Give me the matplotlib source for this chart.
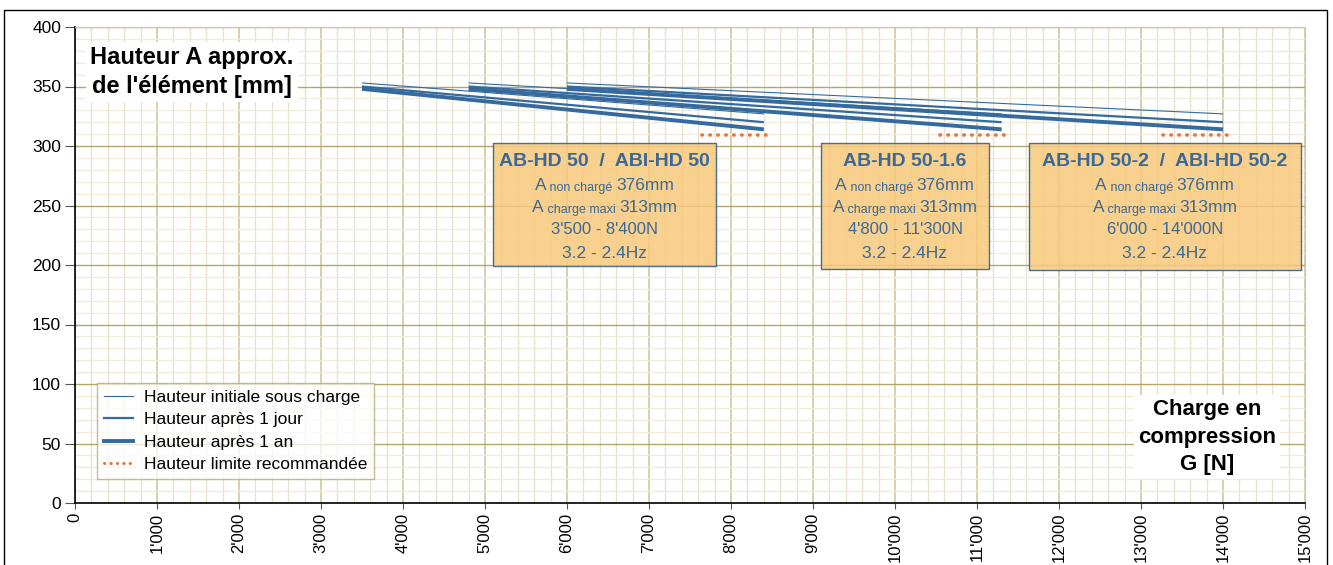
import matplotlib
matplotlib.use("Agg")
import matplotlib.pyplot as plt
from matplotlib.patches import Rectangle
from matplotlib.lines import Line2D
from matplotlib.offsetbox import TextArea, HPacker, AnnotationBbox
from matplotlib.ticker import MultipleLocator

plt.rcParams['font.family'] = ['Liberation Sans', 'DejaVu Sans']

# ---------------- data ----------------
models = ["AB-HD 50  /  ABI-HD 50", "AB-HD 50-1.6", "AB-HD 50-2  /  ABI-HD 50-2"]
load_start = [3500, 4800, 6000]
load_end = [8400, 11300, 14000]
h_initial = [(353, 327), (353, 327), (353, 327)]
h_day = [(350, 320), (350, 320), (350, 320)]
h_year = [(348, 314), (348, 314), (348, 314)]
limit_height = [309, 309, 309]
limit_x = [(7650, 8450), (10550, 11380), (13270, 14090)]
a_unloaded = ["376mm", "376mm", "376mm"]
a_maxload = ["313mm", "313mm", "313mm"]
load_ranges = ["3'500 - 8'400N", "4'800 - 11'300N", "6'000 - 14'000N"]
freq_ranges = ["3.2 - 2.4Hz", "3.2 - 2.4Hz", "3.2 - 2.4Hz"]
x_ticks = list(range(0, 15001, 1000))
x_tick_labels = ["0", "1'000", "2'000", "3'000", "4'000", "5'000", "6'000", "7'000",
                 "8'000", "9'000", "10'000", "11'000", "12'000", "13'000", "14'000", "15'000"]
y_ticks = list(range(0, 401, 50))
y_tick_labels = [str(v) for v in y_ticks]
legend_labels = ["Hauteur initiale sous charge", "Hauteur après 1 jour",
                 "Hauteur après 1 an", "Hauteur limite recommandée"]

# ---------------- style ----------------
W, H = 1333, 565
LINE_C = "#346a9e"
DOT_C = "#f0703c"
TXT_C = "#3a6898"
BOX_FC = "#f9c97c"
BOX_EC = "#4a6b8c"

fig = plt.figure(figsize=(W / 100, H / 100), dpi=100)
ax_l, ax_r, ax_t, ax_b = 75, 1305, 27, 503
ax = fig.add_axes([ax_l / W, 1 - ax_b / H, (ax_r - ax_l) / W, (ax_b - ax_t) / H])

ax.set_xlim(0, 15000)
ax.set_ylim(0, 400)

# grid
ax.xaxis.set_major_locator(MultipleLocator(1000))
ax.xaxis.set_minor_locator(MultipleLocator(200))
ax.yaxis.set_major_locator(MultipleLocator(50))
ax.yaxis.set_minor_locator(MultipleLocator(10))
ax.grid(which="minor", axis="x", color="#e9e2cc", lw=1.0, zorder=0)
ax.grid(which="minor", axis="y", color="#efebdd", lw=1.0, zorder=0)
ax.grid(which="major", axis="x", color="#d2c7a0", lw=1.2, zorder=0)
ax.grid(which="major", axis="y", color="#b3a56c", lw=1.0, zorder=0)
ax.set_axisbelow(True)

ax.set_xticks(x_ticks)
ax.set_xticklabels(x_tick_labels, rotation=90, fontsize=12)
ax.set_yticks(y_ticks)
ax.set_yticklabels(y_tick_labels, fontsize=12.5)
ax.tick_params(axis="y", which="major", length=7, width=0.8, pad=3, color="#555555")
ax.tick_params(axis="x", which="major", length=4, width=0.8, pad=3, color="#555555")
ax.tick_params(which="minor", length=0)

for s in ["top", "right"]:
    ax.spines[s].set_color("#d2c7a0")
for s in ["left", "bottom"]:
    ax.spines[s].set_color("black")
    ax.spines[s].set_linewidth(1.2)

# series lines
for i in range(len(models)):
    xs = [load_start[i], load_end[i]]
    ax.plot(xs, list(h_initial[i]), color=LINE_C, lw=0.8, zorder=3, solid_capstyle="butt")
    ax.plot(xs, list(h_day[i]), color=LINE_C, lw=1.6, zorder=3, solid_capstyle="butt")
    ax.plot(xs, list(h_year[i]), color=LINE_C, lw=2.8, zorder=3, solid_capstyle="butt")
    ax.plot(list(limit_x[i]), [limit_height[i]] * 2, color=DOT_C, lw=2.6,
            linestyle=(0, (0.1, 2.1)), dash_capstyle="round", zorder=3)

# info boxes (pixel layout)
box_px = [(493, 716, 143, 266), (821, 989, 143, 269), (1029, 1301, 143, 270)]
line_py = [161, 186, 208, 230, 253]


def px2ax(px, py):
    return ((px - ax_l) / (ax_r - ax_l), (ax_b - py) / (ax_b - ax_t))


for i, (x0, x1, y0, y1) in enumerate(box_px):
    bx, by = px2ax(x0, y1)
    bw = (x1 - x0) / (ax_r - ax_l)
    bh = (y1 - y0) / (ax_b - ax_t)
    ax.add_patch(Rectangle((bx, by), bw, bh, transform=ax.transAxes,
                           facecolor=BOX_FC, alpha=0.85, edgecolor="none", zorder=4))
    ax.add_patch(Rectangle((bx, by), bw, bh, transform=ax.transAxes,
                           facecolor="none", edgecolor=BOX_EC, lw=1.0, zorder=5))
    cx = (x0 + x1) / 2
    big = dict(color=TXT_C, fontsize=12.5)
    small = dict(color=TXT_C, fontsize=9)
    rows = [
        [TextArea(models[i], textprops=dict(color=TXT_C, fontsize=14, fontweight="bold"))],
        [TextArea("A", textprops=big), TextArea(" non chargé ", textprops=small),
         TextArea(a_unloaded[i], textprops=big)],
        [TextArea("A", textprops=big), TextArea(" charge maxi ", textprops=small),
         TextArea(a_maxload[i], textprops=big)],
        [TextArea(load_ranges[i], textprops=dict(color=TXT_C, fontsize=12))],
        [TextArea(freq_ranges[i], textprops=big)],
    ]
    for r, py in zip(rows, line_py):
        pk = HPacker(children=r, align="baseline", pad=0, sep=0)
        ab = AnnotationBbox(pk, px2ax(cx, py), xycoords="axes fraction",
                            box_alignment=(0.5, 0.5), frameon=False, pad=0, zorder=6)
        ax.add_artist(ab)

# titles
ax.text(*px2ax(192, 72), "Hauteur A approx.\nde l'élément [mm]", transform=ax.transAxes,
        ha="center", va="center", fontsize=17, fontweight="bold", linespacing=1.3,
        bbox=dict(facecolor="white", edgecolor="none", pad=3), zorder=6)
ax.text(*px2ax(1207, 437), "Charge en\ncompression\nG [N]", transform=ax.transAxes,
        ha="center", va="center", fontsize=16, fontweight="bold", linespacing=1.42,
        bbox=dict(facecolor="white", edgecolor="none", pad=3), zorder=6)

# legend
handles = [Line2D([], [], color=LINE_C, lw=0.8),
           Line2D([], [], color=LINE_C, lw=1.6),
           Line2D([], [], color=LINE_C, lw=2.8),
           Line2D([], [], color=DOT_C, lw=2.2, linestyle=(0, (0.1, 2.0)), dash_capstyle="round")]
leg = ax.legend(handles, legend_labels, loc="lower left",
                bbox_to_anchor=px2ax(97, 479), fontsize=12.5, handlelength=1.7,
                handletextpad=0.6, labelspacing=0.42, borderpad=0.4,
                fancybox=False, framealpha=0.75, edgecolor="#b3a56c", borderaxespad=0)
leg.get_frame().set_linewidth(1.0)
leg.set_zorder(7)

# figure border
fig.patches.append(Rectangle((4 / W, -0.02), (1327 - 4) / W, 1.02 - 10 / H,
                             transform=fig.transFigure, fill=False, edgecolor="black",
                             lw=1.0))

fig.savefig("out.png", dpi=100)
